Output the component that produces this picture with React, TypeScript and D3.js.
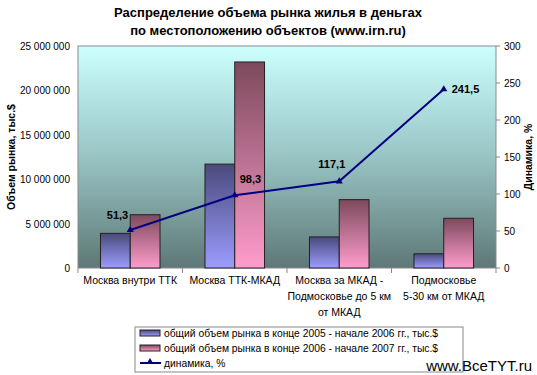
import React from "react";
import * as d3 from "d3";

const categories: string[][] = [
  ["Москва внутри ТТК"],
  ["Москва ТТК-МКАД"],
  ["Москва за МКАД -", "Подмосковье до 5 км", "от МКАД"],
  ["Подмосковье", "5-30 км от МКАД"],
];
const series2006 = [3900000, 11700000, 3500000, 1600000];
const series2007 = [6000000, 23200000, 7700000, 5600000];
const dynamics = [51.3, 98.3, 117.1, 241.5];
const dynamicsLabels = ["51,3", "98,3", "117,1", "241,5"];
const leftTicks = [0, 5000000, 10000000, 15000000, 20000000, 25000000];
const rightTicks = [0, 50, 100, 150, 200, 250, 300];
const legendLabels = [
  "общий объем рынка в конце 2005 - начале 2006 гг., тыс.$",
  "общий объем рынка в конце 2006 - начале 2007 гг., тыс.$",
  "динамика, %",
];

const W = 537;
const H = 375;
const left = 78;
const right = 496;
const top = 46;
const bottom = 268;
const font = "Arial, 'Liberation Sans', sans-serif";

export default function App() {
  const x = d3.scaleBand<number>().domain(d3.range(categories.length)).range([left, right]);
  const yL = d3.scaleLinear().domain([0, 25000000]).range([bottom, top]);
  const yR = d3.scaleLinear().domain([0, 300]).range([bottom, top]);
  const bw = x.bandwidth() * 0.285;
  const cx = (i: number) => (x(i) as number) + x.bandwidth() / 2;
  const fmt = (v: number) => d3.format(",")(v).replace(/,/g, " ");
  const line = d3
    .line<number>()
    .x((_, i) => cx(i))
    .y((d) => yR(d));
  const tri = d3.symbol().type(d3.symbolTriangle).size(22)();
  const labelOffsets = [
    { dx: -2, dy: -11, anchor: "end" },
    { dx: 5, dy: -12, anchor: "start" },
    { dx: 6, dy: -13, anchor: "end" },
    { dx: 8, dy: 4, anchor: "start" },
  ];
  return (
    <svg width={W} height={H} style={{ position: "absolute", left: 0, top: 0 }} fontFamily={font}>
      <defs>
        <linearGradient id="bg" x1="0" y1="0" x2="0" y2="1">
          <stop offset="0" stopColor="#ccffff" />
          <stop offset="0.5" stopColor="#98c4c4" />
          <stop offset="1" stopColor="#5e7876" />
        </linearGradient>
        <linearGradient id="gb" x1="0" y1="0" x2="0" y2="1">
          <stop offset="0" stopColor="#4a4a7c" />
          <stop offset="1" stopColor="#9c9cff" />
        </linearGradient>
        <linearGradient id="gp" x1="0" y1="0" x2="0" y2="1">
          <stop offset="0" stopColor="#7c4a5c" />
          <stop offset="1" stopColor="#ff9ccc" />
        </linearGradient>
      </defs>
      <rect width={W} height={H} fill="#ffffff" />
      <text x={268} y={17} textAnchor="middle" fontSize={13} fontWeight="bold" fill="#000">
        Распределение объема рынка жилья в деньгах
      </text>
      <text x={268} y={35} textAnchor="middle" fontSize={13} fontWeight="bold" fill="#000">
        по местоположению объектов (www.irn.ru)
      </text>
      <rect x={left} y={top} width={right - left} height={bottom - top} fill="url(#bg)" stroke="#8a8a8a" strokeWidth={1} />
      {leftTicks.map((t) => (
        <text key={t} x={70} y={yL(t) + 4} textAnchor="end" fontSize={10} fill="#000">
          {fmt(t)}
        </text>
      ))}
      {rightTicks.map((t) => (
        <g key={t}>
          <line x1={right} x2={right + 4} y1={yR(t)} y2={yR(t)} stroke="#8a8a8a" />
          <text x={504} y={yR(t) + 4} textAnchor="start" fontSize={10} fill="#000">
            {t}
          </text>
        </g>
      ))}
      {d3.range(categories.length + 1).map((i) => {
        const xx = i < categories.length ? (x(i) as number) : right;
        return <line key={i} x1={xx} x2={xx} y1={bottom} y2={bottom + 5} stroke="#8a8a8a" />;
      })}
      {series2006.map((v, i) => (
        <rect key={"a" + i} x={cx(i) - bw} y={yL(v)} width={bw} height={bottom - yL(v)} fill="url(#gb)" stroke="#222" strokeWidth={1} />
      ))}
      {series2007.map((v, i) => (
        <rect key={"b" + i} x={cx(i)} y={yL(v)} width={bw} height={bottom - yL(v)} fill="url(#gp)" stroke="#222" strokeWidth={1} />
      ))}
      <path d={line(dynamics) || ""} fill="none" stroke="#000080" strokeWidth={2} />
      {dynamics.map((v, i) => (
        <path key={"m" + i} d={tri || ""} transform={`translate(${cx(i)},${yR(v)})`} fill="#000080" />
      ))}
      {dynamics.map((v, i) => (
        <text
          key={"l" + i}
          x={cx(i) + labelOffsets[i].dx}
          y={yR(v) + labelOffsets[i].dy}
          textAnchor={labelOffsets[i].anchor}
          fontSize={11}
          fontWeight="bold"
          fill="#000"
        >
          {dynamicsLabels[i]}
        </text>
      ))}
      {categories.map((lines, i) =>
        lines.map((s, j) => (
          <text key={i + "-" + j} x={cx(i)} y={284 + j * 16} textAnchor="middle" fontSize={10.5} fill="#000">
            {s}
          </text>
        ))
      )}
      <text transform={`translate(15,${(top + bottom) / 2}) rotate(-90)`} textAnchor="middle" fontSize={10.5} fontWeight="bold" fill="#000">
        Объем рынка, тыс.$
      </text>
      <text transform={`translate(532,${(top + bottom) / 2}) rotate(-90)`} textAnchor="middle" fontSize={10.5} fontWeight="bold" fill="#000">
        Динамика, %
      </text>
      <rect x={135} y={327} width={328} height={45} fill="#fff" stroke="#8a8a8a" />
      <rect x={140} y={330} width={20} height={6} fill="url(#gb)" stroke="#222" />
      <rect x={140} y={345} width={20} height={6} fill="url(#gp)" stroke="#222" />
      <line x1={140} x2={161} y1={363} y2={363} stroke="#000080" strokeWidth={2} />
      <path d={tri || ""} transform="translate(150,362)" fill="#000080" />
      {legendLabels.map((s, i) => (
        <text key={s} x={164} y={337 + i * 15} fontSize={10.3} fill="#000">
          {s}
        </text>
      ))}
      <text x={532} y={371} textAnchor="end" fontSize={15} fill="#000">
        www.BceTYT.ru
      </text>
    </svg>
  );
}
